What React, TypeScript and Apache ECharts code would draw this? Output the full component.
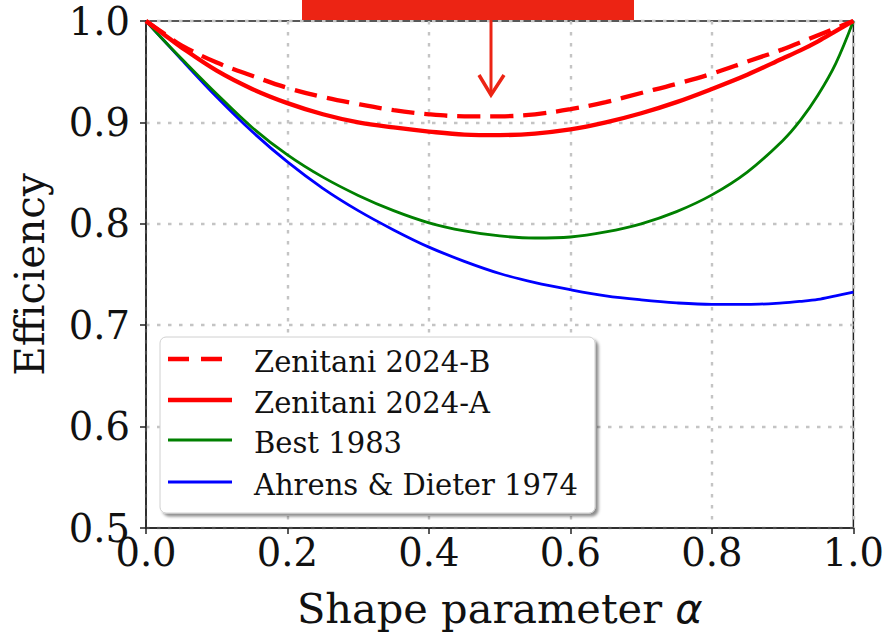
import React, { useEffect, useRef } from "react";
import * as echarts from "echarts";

// Shape parameter values where the efficiencies are sampled
const alpha = [0, 0.025, 0.05, 0.1, 0.15, 0.2, 0.25, 0.3, 0.35, 0.4, 0.45, 0.5, 0.55, 0.6, 0.65, 0.7, 0.75, 0.8, 0.85, 0.9, 0.925, 0.95, 0.975, 1.0];

const zenitaniB = [1.0, 0.988, 0.976, 0.959, 0.946, 0.934, 0.925, 0.918, 0.912, 0.908, 0.906, 0.906, 0.908, 0.913, 0.92, 0.929, 0.938, 0.948, 0.96, 0.972, 0.979, 0.986, 0.993, 1.0];
const zenitaniA = [1.0, 0.987, 0.974, 0.951, 0.933, 0.919, 0.908, 0.9, 0.895, 0.891, 0.888, 0.8875, 0.889, 0.893, 0.9, 0.909, 0.92, 0.933, 0.947, 0.963, 0.971, 0.98, 0.99, 1.0];
const best1983 = [1.0, 0.981, 0.963, 0.928, 0.895, 0.868, 0.846, 0.828, 0.813, 0.801, 0.793, 0.788, 0.786, 0.787, 0.792, 0.8, 0.812, 0.8285, 0.851, 0.882, 0.902, 0.927, 0.958, 1.0];
const ahrensDieter = [1.0, 0.981, 0.962, 0.925, 0.891, 0.861, 0.835, 0.813, 0.794, 0.777, 0.763, 0.751, 0.742, 0.735, 0.729, 0.725, 0.722, 0.7205, 0.7205, 0.722, 0.7235, 0.7255, 0.729, 0.7325];

const seriesNames = ["Zenitani 2024-B", "Zenitani 2024-A", "Best 1983", "Ahrens & Dieter 1974"];

const xTicks = [0, 0.2, 0.4, 0.6, 0.8, 1.0];
const yTicks = [0.5, 0.6, 0.7, 0.8, 0.9, 1.0];

const SERIF = "'DejaVu Serif', serif";
const RED = "#ff0000";
const GREEN = "#008000";
const BLUE = "#0000ff";
const ANNOT = "#ec2414";

const pairs = (ys: number[]) => alpha.map((a, i) => [a, ys[i]]);

export default function App() {
  const ref = useRef<HTMLDivElement>(null);

  useEffect(() => {
    if (!ref.current) return;
    const chart = echarts.init(ref.current, undefined, { renderer: "svg" });

    const gridLine = { color: "#c4c4c4", width: 2.4, type: [3.5, 7.5] as number[] };

    const legendRows = [
      { name: seriesNames[0], color: RED, width: 4.5, dash: [21, 12] as number[] | null },
      { name: seriesNames[1], color: RED, width: 4.5, dash: null },
      { name: seriesNames[2], color: GREEN, width: 3, dash: null },
      { name: seriesNames[3], color: BLUE, width: 3, dash: null },
    ];
    const legendTop = 337;
    const rowY = [362, 403, 443, 485];

    chart.setOption({
      animation: false,
      backgroundColor: "#ffffff",
      grid: {
        left: 146,
        right: 32,
        top: 21,
        bottom: 107,
        show: true,
        borderColor: "#222222",
        borderWidth: 1.5,
        backgroundColor: "transparent",
      },
      xAxis: {
        type: "value",
        min: xTicks[0],
        max: xTicks[xTicks.length - 1],
        interval: 0.2,
        name: "{n|Shape parameter }{a|α}",
        nameLocation: "middle",
        nameGap: 59,
        nameTextStyle: {
          rich: {
            n: { fontFamily: SERIF, fontSize: 41.5, color: "#111" },
            a: { fontFamily: "'DejaVu Sans', sans-serif", fontStyle: "italic", fontSize: 41.5, color: "#111" },
          },
        },
        axisLine: { show: true, lineStyle: { color: "#222", width: 1.5 } },
        axisTick: { show: true, inside: false, length: 6, lineStyle: { color: "#222", width: 1.5 } },
        axisLabel: {
          fontFamily: SERIF,
          fontSize: 38.5,
          color: "#111",
          margin: 5,
          formatter: (v: number) => v.toFixed(1),
        },
        splitLine: { show: true, lineStyle: gridLine },
      },
      yAxis: {
        type: "value",
        min: yTicks[0],
        max: yTicks[yTicks.length - 1],
        interval: 0.1,
        name: "Efficiency",
        nameLocation: "middle",
        nameGap: 96,
        nameTextStyle: { fontFamily: SERIF, fontSize: 40.5, color: "#111" },
        axisLine: { show: true, lineStyle: { color: "#222", width: 1.5 } },
        axisTick: { show: true, inside: false, length: 6, lineStyle: { color: "#222", width: 1.5 } },
        axisLabel: {
          fontFamily: SERIF,
          fontSize: 38.5,
          color: "#111",
          margin: 16,
          formatter: (v: number) => v.toFixed(1),
        },
        splitLine: { show: true, lineStyle: gridLine },
      },
      series: [
        {
          name: seriesNames[3],
          type: "line",
          data: pairs(ahrensDieter),
          showSymbol: false,
          smooth: 0.35,
          lineStyle: { color: BLUE, width: 2.8 },
          z: 3,
        },
        {
          name: seriesNames[2],
          type: "line",
          data: pairs(best1983),
          showSymbol: false,
          smooth: 0.35,
          lineStyle: { color: GREEN, width: 2.8 },
          z: 4,
        },
        {
          name: seriesNames[1],
          type: "line",
          data: pairs(zenitaniA),
          showSymbol: false,
          smooth: 0.35,
          lineStyle: { color: RED, width: 4.3 },
          z: 5,
        },
        {
          name: seriesNames[0],
          type: "line",
          data: pairs(zenitaniB),
          showSymbol: false,
          smooth: 0.35,
          lineStyle: { color: RED, width: 4.3, type: [23, 10] },
          z: 6,
        },
      ],
      graphic: [
        // annotation banner and arrow at the top
        {
          type: "rect",
          shape: { x: 302, y: -10, width: 332, height: 30 },
          style: { fill: ANNOT },
          z: 100,
        },
        {
          type: "line",
          shape: { x1: 491, y1: 20, x2: 491, y2: 94 },
          style: { stroke: ANNOT, lineWidth: 3 },
          z: 100,
        },
        {
          type: "polyline",
          shape: { points: [[479, 75], [491, 95], [504, 75]] },
          style: { stroke: ANNOT, lineWidth: 3.5, fill: "none" },
          z: 100,
        },
        // legend frame
        {
          type: "rect",
          shape: { x: 160, y: legendTop, width: 435, height: 176, r: 6 },
          style: {
            fill: "#ffffff",
            stroke: "#d0d0d0",
            lineWidth: 1,
            shadowBlur: 3,
            shadowOffsetX: 3,
            shadowOffsetY: 3,
            shadowColor: "rgba(0,0,0,0.45)",
          },
          z: 50,
        },
        ...legendRows.flatMap((row, i) => [
          {
            type: "line",
            shape: { x1: 168, y1: rowY[i] - 3, x2: 232, y2: rowY[i] - 3 },
            style: {
              stroke: row.color,
              lineWidth: row.width,
              lineDash: row.dash || undefined,
            },
            z: 51,
          },
          {
            type: "text",
            x: 254,
            y: rowY[i],
            style: {
              text: row.name,
              font: `29px ${SERIF}`,
              fill: "#111",
              textVerticalAlign: "middle",
              textAlign: "left",
            },
            z: 51,
          },
        ]),
      ],
    });

    return () => chart.dispose();
  }, []);

  return (
    <div
      ref={ref}
      style={{ position: "fixed", left: 0, top: 0, width: 887, height: 635 }}
    />
  );
}
